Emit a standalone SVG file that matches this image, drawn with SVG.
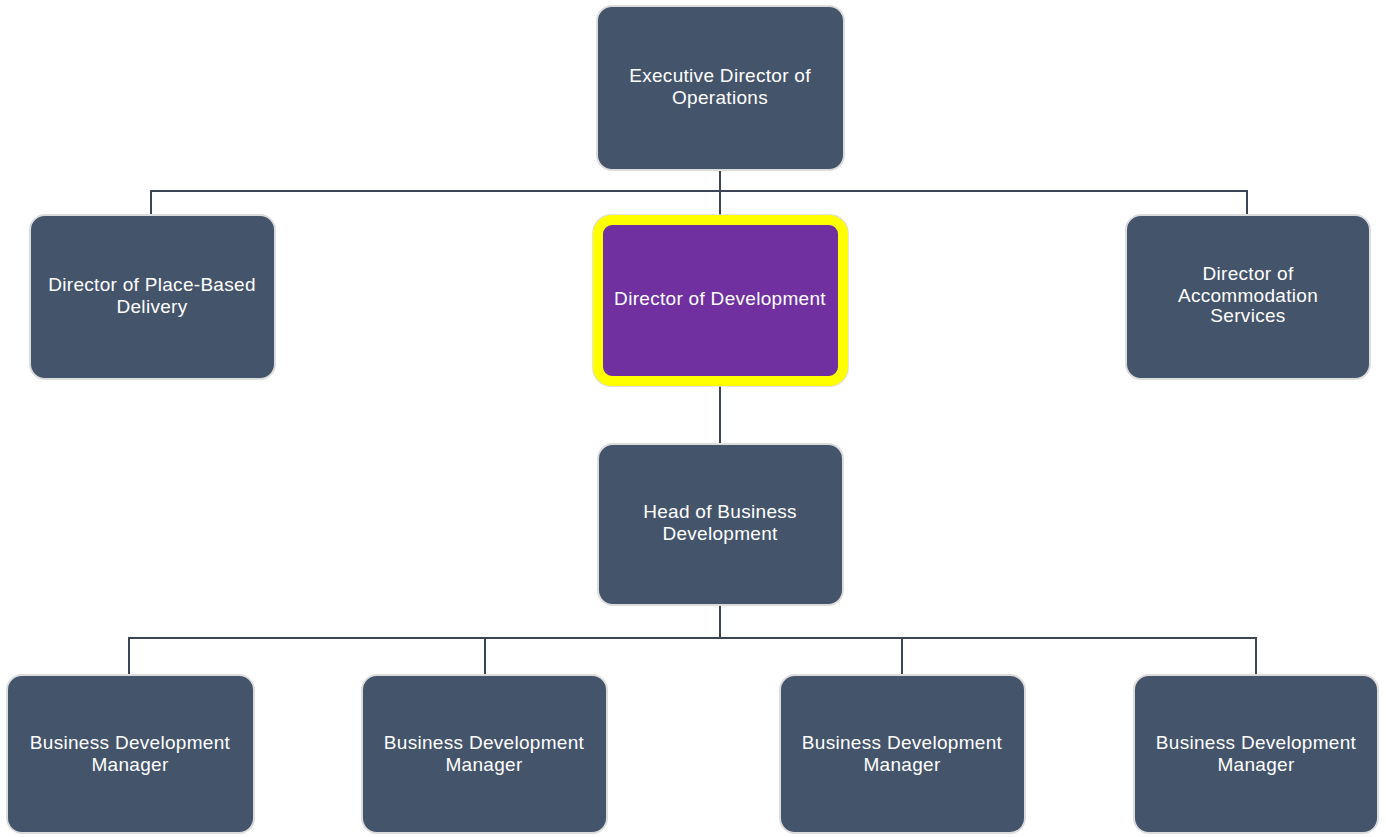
<svg xmlns="http://www.w3.org/2000/svg" width="1386" height="837" viewBox="0 0 1386 837">
<style>
.box{fill:#44546A;stroke:#dcdcdc;stroke-width:2}
.hl{fill:#7030A0;stroke:#FFFF00;stroke-width:10}
.hlo{fill:none;stroke:#dcdcdc;stroke-width:1.5}
.t{font-family:"Liberation Sans",Arial,sans-serif;font-size:19px;letter-spacing:0.3px;fill:#ffffff;text-anchor:middle}
.c{fill:none;stroke:#3a4656;stroke-width:2}
</style>
<rect width="1386" height="837" fill="#ffffff"/>
<g id="connectors">
<path class="c" d="M720 170 V191 M151 215 V191 H1247 V215 M720 191 V220"/>
<path class="c" d="M720 386 V444"/>
<path class="c" d="M720 605 V638 M129 675 V638 H1256 V675 M485 638 V675 M902 638 V675"/>
</g>
<g id="n-exec">
<rect class="box" x="597" y="6" width="247" height="164" rx="15"/>
<text class="t" x="720" y="82">Executive Director of</text>
<text class="t" x="720" y="104">Operations</text>
</g>
<g id="n-place">
<rect class="box" x="30" y="215" width="245" height="164" rx="15"/>
<text class="t" x="152" y="291">Director of Place-Based</text>
<text class="t" x="152" y="313">Delivery</text>
</g>
<g id="n-dev">
<rect class="hlo" x="593" y="215" width="255" height="171" rx="18"/>
<rect class="hl" x="598" y="220" width="245" height="161" rx="14"/>
<text class="t" x="720" y="305">Director of Development</text>
</g>
<g id="n-accom">
<rect class="box" x="1126" y="215" width="244" height="164" rx="15"/>
<text class="t" x="1248" y="280">Director of</text>
<text class="t" x="1248" y="302">Accommodation</text>
<text class="t" x="1248" y="322">Services</text>
</g>
<g id="n-head">
<rect class="box" x="598" y="444" width="245" height="161" rx="15"/>
<text class="t" x="720" y="518">Head of Business</text>
<text class="t" x="720" y="540">Development</text>
</g>
<g id="n-bdm1">
<rect class="box" x="7" y="675" width="247" height="158" rx="15"/>
<text class="t" x="130" y="749">Business Development</text>
<text class="t" x="130" y="771">Manager</text>
</g>
<g id="n-bdm2">
<rect class="box" x="362" y="675" width="245" height="158" rx="15"/>
<text class="t" x="484" y="749">Business Development</text>
<text class="t" x="484" y="771">Manager</text>
</g>
<g id="n-bdm3">
<rect class="box" x="780" y="675" width="245" height="158" rx="15"/>
<text class="t" x="902" y="749">Business Development</text>
<text class="t" x="902" y="771">Manager</text>
</g>
<g id="n-bdm4">
<rect class="box" x="1134" y="675" width="244" height="158" rx="15"/>
<text class="t" x="1256" y="749">Business Development</text>
<text class="t" x="1256" y="771">Manager</text>
</g>
</svg>
